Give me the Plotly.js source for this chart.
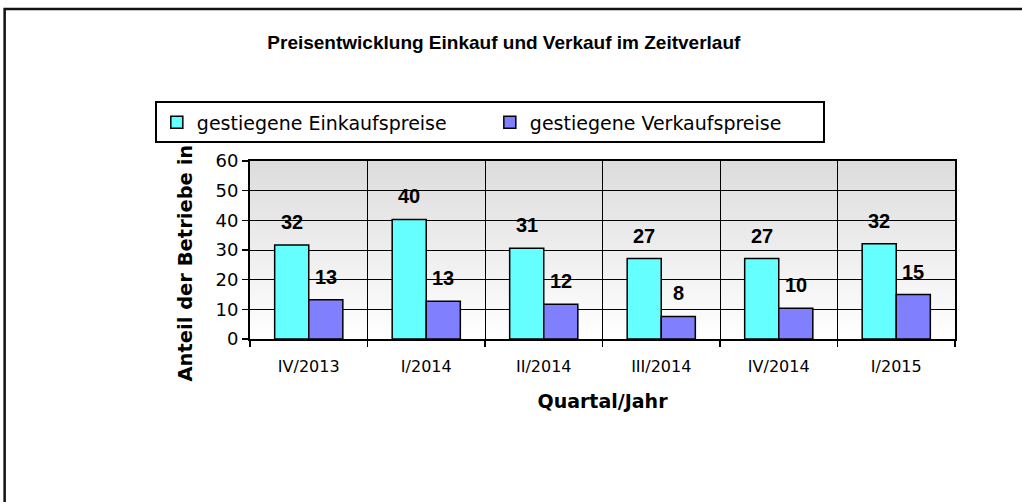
<!DOCTYPE html>
<html>
<head>
<meta charset="utf-8">
<script src="https://cdn.plot.ly/plotly-3.0.1.min.js"></script>
<style>
html,body{margin:0;padding:0;background:#fff;}
#chart{width:1022px;height:502px;}
</style>
</head>
<body>
<div id="chart"></div>
<script>
const categories = ["IV/2013", "I/2014", "II/2014", "III/2014", "IV/2014", "I/2015"];
const einkauf = [31.7, 40.3, 30.6, 27.1, 27.1, 32.1];
const verkauf = [13.2, 12.7, 11.7, 7.6, 10.4, 15.0];
const seriesNames = ["gestiegene Einkaufspreise", "gestiegene Verkaufspreise"];
const yTicks = [0, 10, 20, 30, 40, 50, 60];

const traces = [
  {type: "bar", name: seriesNames[0], x: categories, y: einkauf,
   marker: {color: "#66FFFF", line: {color: "#000000", width: 1.5}}, hoverinfo: "x+y"},
  {type: "bar", name: seriesNames[1], x: categories, y: verkauf,
   marker: {color: "#8080FF", line: {color: "#000000", width: 1.5}}, hoverinfo: "x+y"}
];

const annotations = [];
[einkauf, verkauf].forEach((arr, si) => {
  arr.forEach((v, i) => {
    annotations.push({
      x: categories[i], y: v, xref: "x", yref: "y",
      text: String(Math.round(v)), showarrow: false,
      xshift: si === 0 ? -17 : 17, yshift: 23,
      yanchor: "middle", xanchor: "center",
      font: {family: "Liberation Sans, Arial, sans-serif", size: 20, color: "#000", weight: "bold"}
    });
  });
});

const gradSvg = '<svg xmlns="http://www.w3.org/2000/svg" width="10" height="100" preserveAspectRatio="none">' +
  '<defs><linearGradient id="g" x1="0" y1="0" x2="0" y2="1">' +
  '<stop offset="0" stop-color="#dcdcdc"/><stop offset="1" stop-color="#ffffff"/></linearGradient></defs>' +
  '<rect width="10" height="100" fill="url(#g)"/></svg>';

const layout = {
  width: 1022, height: 502,
  margin: {l: 250, r: 67, t: 161, b: 163},
  paper_bgcolor: "#ffffff",
  plot_bgcolor: "rgba(0,0,0,0)",
  font: {family: "DejaVu Sans, sans-serif", color: "#000"},
  title: {
    text: "<b>Preisentwicklung Einkauf und Verkauf im Zeitverlauf</b>",
    font: {family: "Liberation Sans, Arial, sans-serif", size: 19, color: "#000"},
    x: 0.493, xanchor: "center", y: 1 - 42/502, yanchor: "middle", yref: "container"
  },
  barmode: "group", bargap: 0.42, bargroupgap: 0,
  showlegend: true,
  legend: {
    orientation: "h", x: -0.135, xanchor: "left", y: 1.335, yanchor: "top",
    bordercolor: "#000", borderwidth: 2, bgcolor: "#fff",
    font: {family: "DejaVu Sans, sans-serif", size: 19, color: "#000"},
    entrywidth: 288, entrywidthmode: "pixels"
  },
  xaxis: {
    type: "category", tickson: "boundaries", ticks: "outside", ticklen: 6, tickwidth: 1.5, tickcolor: "#000",
    showgrid: true, gridcolor: "#000", gridwidth: 1,
    showline: true, linecolor: "#000", linewidth: 2, mirror: true,
    ticklabelstandoff: 12,
    tickfont: {family: "DejaVu Sans, sans-serif", size: 16, color: "#000"},
    title: {text: "<b>Quartal/Jahr</b>", font: {family: "DejaVu Sans, sans-serif", size: 19, color: "#000"}, standoff: 19},
    fixedrange: true
  },
  yaxis: {
    range: [0, 60], tickvals: yTicks, ticktext: yTicks.map(String),
    ticks: "outside", ticklen: 6, tickwidth: 1.5, tickcolor: "#000",
    showgrid: true, gridcolor: "#000", gridwidth: 1, zeroline: false,
    showline: true, linecolor: "#000", linewidth: 2, mirror: true,
    tickfont: {family: "DejaVu Sans, sans-serif", size: 18, color: "#000"},
    title: {text: "<b>Anteil der Betriebe in %</b>", font: {family: "DejaVu Sans, sans-serif", size: 19.5, color: "#000"}, standoff: 18},
    fixedrange: true
  },
  images: [{
    source: "data:image/svg+xml;charset=utf-8," + encodeURIComponent(gradSvg),
    xref: "paper", yref: "paper", x: 0, y: 1, sizex: 1, sizey: 1,
    xanchor: "left", yanchor: "top", sizing: "stretch", layer: "below"
  }],
  shapes: [{
    type: "rect", xref: "paper", yref: "paper",
    x0: (5 - 250) / 704, x1: (1040 - 250) / 704,
    y0: (339 - 520) / 178, y1: (339 - 9) / 178,
    line: {color: "#111", width: 2.5}, fillcolor: "rgba(0,0,0,0)", layer: "above"
  }],
  annotations: annotations
};

Plotly.newPlot("chart", traces, layout, {displayModeBar: false, staticPlot: true}).then(function (gd) {
  // keep the legend box drawn over the axis title, as in the original
  var info = gd._fullLayout._infolayer && gd._fullLayout._infolayer.node();
  if (info) {
    var leg = info.querySelector("g.legend");
    if (leg) info.appendChild(leg);
  }
});
</script>
</body>
</html>
